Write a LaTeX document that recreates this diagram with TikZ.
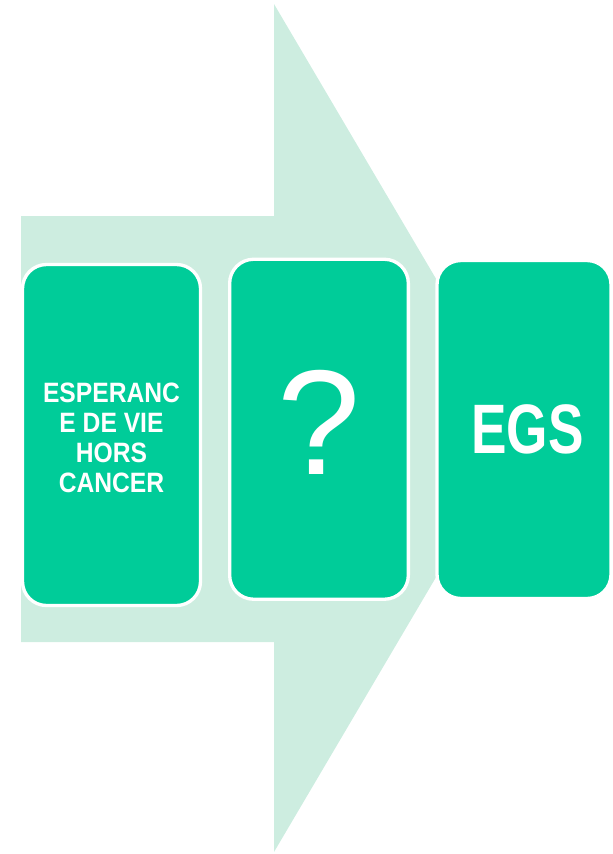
\documentclass[tikz,border=0pt]{standalone}
\usepackage{fontspec}
\setmainfont{Liberation Sans}
\usepackage{graphicx}
\definecolor{flecha}{RGB}{205,237,224}
\definecolor{verde}{RGB}{0,204,153}
\tikzset{
  caja/.style={draw=white, line width=2.5pt, fill=verde, rounded corners=18pt,
    text=white, align=center, inner sep=0pt, minimum width=134pt, minimum height=255pt}
}

\begin{document}
\begin{tikzpicture}[x=0.75pt, y=-0.75pt, line cap=round, line join=round]
  % Marco
  \useasboundingbox (0,0) rectangle (612,854);

  % Flecha de fondo
  \fill[flecha] (21,216) -- (274,216) -- (274,4) -- (524,428)
    -- (274,852) -- (274,642) -- (21,642) -- cycle;

  % Cajas
  \node[caja, minimum width=133.5pt, minimum height=255.75pt] (esperance) at (111.5,435)
    {\scalebox{0.88}[1]{\fontsize{21}{22.5}\selectfont\bfseries
      \begin{tabular}{@{}c@{}}\rule{0pt}{24.75pt}ESPERANC\\ E DE VIE\\ HORS\\ CANCER\end{tabular}}};
  \node[caja] (pregunta) at (319,429.25)
    {\fontsize{112}{112}\selectfont\raisebox{10.5pt}{?}};
  \node[caja, minimum width=130.5pt, minimum height=253.5pt] (egs) at (524,429.5)
    {\hspace*{5pt}\scalebox{0.76}[1]{\fontsize{52.5}{52.5}\selectfont\bfseries EGS}};
\end{tikzpicture}
\end{document}
